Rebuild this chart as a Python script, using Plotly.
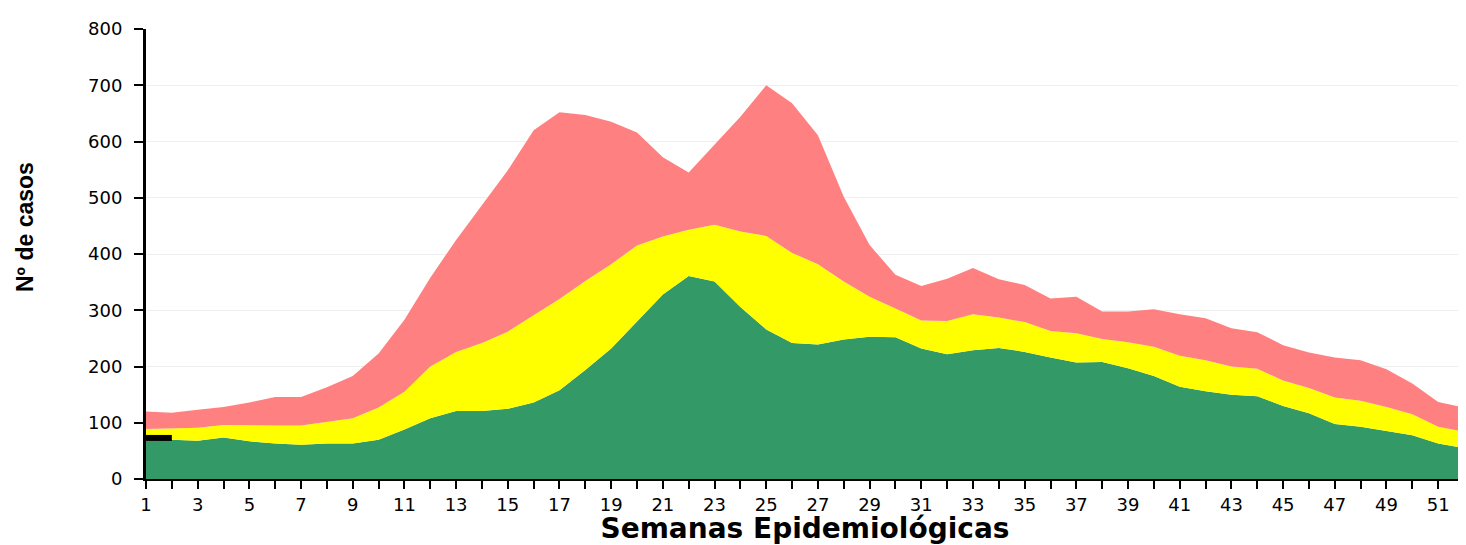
import plotly.graph_objects as go

weeks = list(range(1, 53))

# upper edge of each zone (cumulative)
exito = [68, 70, 68, 74, 67, 63, 61, 63, 63, 70,
         88, 108, 121, 121, 125, 136, 158, 194, 232, 280,
         328, 361, 351, 306, 266, 242, 239, 248, 253, 252,
         232, 222, 229, 233, 226, 216, 207, 208, 197, 183,
         164, 156, 150, 147, 130, 117, 98, 93, 86, 78,
         63, 55]
seguridad = [89, 90, 91, 96, 95, 95, 95, 102, 108, 127,
             155, 200, 226, 242, 262, 291, 320, 352, 382, 415,
             431, 443, 452, 440, 432, 402, 382, 351, 324, 303,
             282, 281, 293, 287, 279, 263, 259, 249, 243, 235,
             219, 211, 200, 196, 175, 162, 145, 139, 128, 115,
             93, 84]
alarma = [120, 118, 123, 128, 136, 146, 146, 163, 183, 223,
          283, 358, 425, 487, 549, 620, 652, 647, 635, 616,
          572, 545, 594, 644, 700, 668, 611, 502, 416, 363,
          343, 356, 375, 355, 345, 321, 324, 298, 298, 302,
          293, 286, 268, 261, 238, 225, 216, 211, 195, 170,
          137, 127]

semanas_actual = [1, 2]
casos_actual = [73, 73]

fig = go.Figure()
fig.add_trace(go.Scatter(
    x=weeks, y=exito, mode='lines', line=dict(width=0, color='#339966'),
    fill='tozeroy', fillcolor='#339966', name='Éxito', hoverinfo='skip',
))
fig.add_trace(go.Scatter(
    x=weeks, y=seguridad, mode='lines', line=dict(width=0, color='#FFFF00'),
    fill='tonexty', fillcolor='#FFFF00', name='Seguridad', hoverinfo='skip',
))
fig.add_trace(go.Scatter(
    x=weeks, y=alarma, mode='lines', line=dict(width=0, color='#FF8080'),
    fill='tonexty', fillcolor='#FF8080', name='Alarma', hoverinfo='skip',
))
fig.add_trace(go.Scatter(
    x=semanas_actual, y=casos_actual, mode='lines',
    line=dict(width=6, color='black'), name='Casos', cliponaxis=False,
))

# page body has an 8px margin, so the figure is shrunk by that much
fig.update_layout(
    width=1458, height=537,
    margin=dict(l=138, r=2, t=21, b=66, autoexpand=False),
    paper_bgcolor='white', plot_bgcolor='white',
    showlegend=False,
    font=dict(family='DejaVu Sans, Liberation Sans, Arial', color='black'),
    xaxis=dict(
        range=[1, 52], tick0=1, dtick=2,
        ticks='outside', ticklen=8, tickwidth=2, tickcolor='black',
        showline=True, linecolor='black', linewidth=2,
        showgrid=False, zeroline=False,
        tickfont=dict(size=18, family='DejaVu Sans'),
        minor=dict(dtick=1, ticks='outside', ticklen=8, tickwidth=2,
                   tickcolor='black', showgrid=False),
        title=dict(text='<b>Semanas Epidemiológicas</b>',
                   font=dict(size=28, family='DejaVu Sans'), standoff=4),
        automargin=False,
    ),
    yaxis=dict(
        range=[0, 800], dtick=100,
        ticks='outside', ticklen=9, tickwidth=2, tickcolor='black',
        showline=True, linecolor='black', linewidth=3,
        showgrid=True, gridcolor='#efefef', gridwidth=1,
        zeroline=False,
        tickfont=dict(size=18, family='DejaVu Sans'),
        ticklabelstandoff=8,
        automargin=False,
    ),
)

# y title sits a bit above the middle of the axis in the original
fig.add_annotation(
    text='<b>Nº de casos</b>', textangle=-90,
    xref='paper', yref='paper', x=0, y=0.56,
    xanchor='center', yanchor='middle', xshift=-121,
    showarrow=False,
    font=dict(size=23, family='Liberation Sans, Arial', color='black'),
)

fig.write_html("out.html")
